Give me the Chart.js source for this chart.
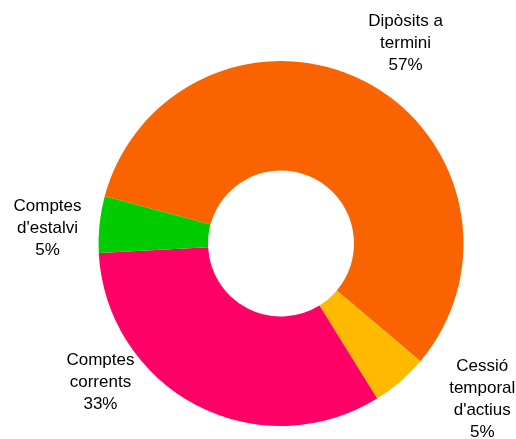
<!DOCTYPE html>
<html>
<head>
<meta charset="utf-8">
<script src="https://cdn.jsdelivr.net/npm/chart.js@4/dist/chart.umd.min.js"></script>
<style>
  html, body { margin: 0; padding: 0; background: #fff; }
  #wrap { width: 516px; height: 439px; }
</style>
</head>
<body>
<div id="wrap"><canvas id="depChart"></canvas></div>
<script>
// Deposit breakdown (percent of total)
const labels = [
  ['Dipòsits a', 'termini'],
  ['Cessió', 'temporal', "d'actius"],
  ['Comptes', 'corrents'],
  ['Comptes', "d'estalvi"]
];
const values = [57, 5, 33, 5];
const colors = ['#FA6400', '#FFBA00', '#FF0066', '#00CC00'];

// where each label block sits, relative to the outer edge at the slice's mid angle
const labelShift = [[40, -38], [82, 18], [-96, -23], [-52, 4]];

const sliceLabels = {
  id: 'sliceLabels',
  afterDatasetsDraw(chart) {
    const ctx = chart.ctx;
    const meta = chart.getDatasetMeta(0);
    ctx.save();
    ctx.font = '17px "Liberation Sans", Arial, sans-serif';
    ctx.fillStyle = '#000';
    ctx.textAlign = 'center';
    ctx.textBaseline = 'middle';
    const lh = 22;
    meta.data.forEach((arc, i) => {
      const p = arc.getProps(['x', 'y', 'startAngle', 'endAngle', 'outerRadius'], true);
      const mid = (p.startAngle + p.endAngle) / 2;
      const cx = p.x + Math.cos(mid) * p.outerRadius + labelShift[i][0];
      const cy = p.y + Math.sin(mid) * p.outerRadius + labelShift[i][1];
      const lines = labels[i].concat([values[i] + '%']);
      const top = cy - (lines.length - 1) * lh / 2;
      lines.forEach((t, j) => ctx.fillText(t, cx, top + j * lh));
    });
    ctx.restore();
  }
};

const ctx = document.getElementById('depChart').getContext('2d');
new Chart(ctx, {
  type: 'doughnut',
  data: {
    labels: labels,
    datasets: [{
      data: values,
      backgroundColor: colors,
      borderWidth: 0
    }]
  },
  options: {
    responsive: true,
    maintainAspectRatio: false,
    animation: false,
    cutout: '40%',
    rotation: 285,
    layout: {
      padding: { top: 61, bottom: 13, left: 98.5, right: 52.5 }
    },
    plugins: {
      legend: { display: false },
      tooltip: { enabled: false }
    }
  },
  plugins: [sliceLabels]
});
</script>
</body>
</html>
